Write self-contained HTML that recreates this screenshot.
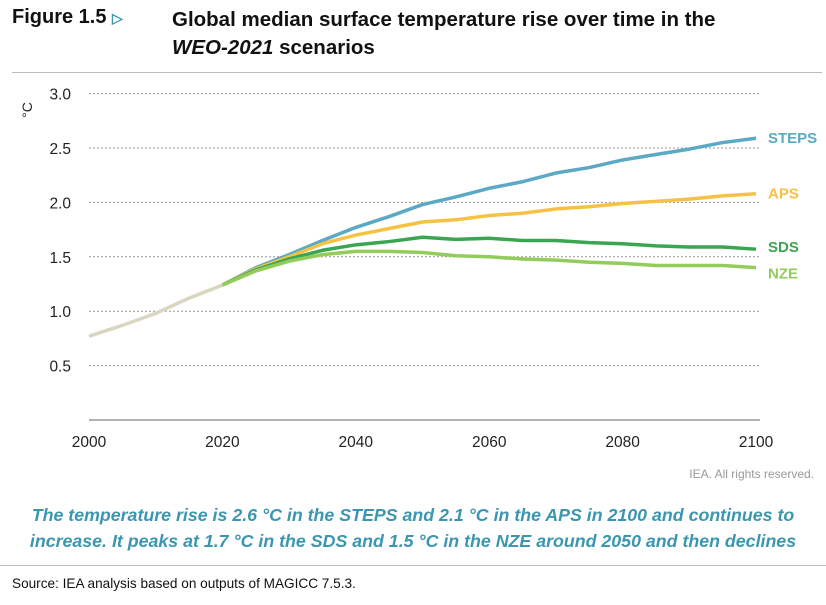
<!DOCTYPE html>
<html><head><meta charset="utf-8"><style>
body{margin:0;width:826px;height:605px;background:#fff;font-family:"Liberation Sans",sans-serif;position:relative;overflow:hidden}
.a{position:absolute}
</style></head><body>
<div class="a" style="left:12px;top:6px;font-weight:bold;font-size:20px;color:#111">Figure 1.5 <span style="color:#3b96b0;font-size:14px">&#9655;</span></div>
<div class="a" style="left:172px;top:6px;font-weight:bold;font-size:20.5px;line-height:28px;color:#111;white-space:nowrap">Global median surface temperature rise over time in the<br><i>WEO-2021</i> scenarios</div>
<div class="a" style="left:12px;top:72px;width:810px;height:1px;background:#bbb"></div>
<svg class="a" style="left:0;top:0" width="826" height="470">
<g id="grid"></g><g id="lines"></g><g id="labels"></g>
<text x="32" y="110" font-size="14" fill="#222" transform="rotate(-90 32 110)" text-anchor="middle">°C</text>
</svg>
<div class="a" style="right:12px;top:467px;font-size:12px;color:#999">IEA. All rights reserved.</div>
<div class="a" style="left:0;width:826px;top:502px;text-align:center;font-style:italic;font-weight:bold;font-size:17.8px;line-height:26px;color:#3b96b0;white-space:nowrap">The temperature rise is 2.6 °C in the STEPS and 2.1 °C in the APS in 2100 and continues to<br>increase. It peaks at 1.7 °C in the SDS and 1.5 °C in the NZE around 2050 and then declines</div>
<div class="a" style="left:0;top:565px;width:826px;height:1px;background:#bbb"></div>
<div class="a" style="left:12px;top:576px;font-size:13.6px;color:#111">Source: IEA analysis based on outputs of MAGICC 7.5.3.</div>
<script>
const histYears=[2000,2005,2010,2015,2020];
const histVals=[0.77,0.87,0.98,1.12,1.24];
const years=[2020,2025,2030,2035,2040,2045,2050,2055,2060,2065,2070,2075,2080,2085,2090,2095,2100];
const steps=[1.24,1.40,1.52,1.65,1.77,1.87,1.98,2.05,2.13,2.19,2.27,2.32,2.39,2.44,2.49,2.55,2.59];
const aps=[1.24,1.39,1.50,1.62,1.70,1.76,1.82,1.84,1.88,1.90,1.94,1.96,1.99,2.01,2.03,2.06,2.08];
const sds=[1.24,1.38,1.48,1.56,1.61,1.64,1.68,1.66,1.67,1.65,1.65,1.63,1.62,1.60,1.59,1.59,1.57];
const nze=[1.24,1.37,1.46,1.52,1.55,1.55,1.54,1.51,1.50,1.48,1.47,1.45,1.44,1.42,1.42,1.42,1.40];
const yTicks=[0.5,1.0,1.5,2.0,2.5,3.0];
const xTicks=[2000,2020,2040,2060,2080,2100];
const X=y=>89+(y-2000)*6.67;
const Y=v=>420-v*108.8;
const NS="http://www.w3.org/2000/svg";
function mk(p,t,a){const e=document.createElementNS(NS,t);for(const k in a)e.setAttribute(k,a[k]);document.getElementById(p).appendChild(e);return e;}
yTicks.forEach(v=>{
 const l=mk('grid','line',{x1:89,x2:760,y1:Y(v),y2:Y(v),stroke:'#999','stroke-width':1,'stroke-dasharray':'2,2'});
 
 
 const t=mk('labels','text',{x:71,y:Y(v)+6,'text-anchor':'end','font-size':15.5,fill:'#222'});
 t.textContent=v.toFixed(1);
 
 
});
const ax=mk('grid','line',{x1:89,x2:760,y1:420,y2:420,stroke:'#999','stroke-width':1.5});


xTicks.forEach(v=>{
 const t=mk('labels','text',{x:X(v),y:447,'text-anchor':'middle','font-size':15.5,fill:'#222'});
 t.textContent=v;
 
 
});
function line(xs,vs,c,name){
 const p=mk('lines','polyline',{points:xs.map((y,i)=>X(y)+','+Y(vs[i])).join(' '),fill:'none',stroke:c,'stroke-width':3.5,'stroke-linejoin':'round'});
 
 
}
line(years,steps,'#5ba9c4','steps-line');
line(years,aps,'#f6c244','aps-line');
line(years,sds,'#3aa651','sds-line');
line(years,nze,'#92cc5a','nze-line');
line(histYears,histVals,'#d9d6c0','historical-line');
[['STEPS',steps,'#5ba9c4',0],['APS',aps,'#f6c244',0],['SDS',sds,'#3aa651',-2],['NZE',nze,'#92cc5a',6]].forEach(([n,arr,c,d])=>{
 const t=mk('labels','text',{x:768,y:Y(arr[arr.length-1])+5+d,'font-size':15,'font-weight':'bold',fill:c});
 t.textContent=n;
 
 
});
</script>
</body></html>
